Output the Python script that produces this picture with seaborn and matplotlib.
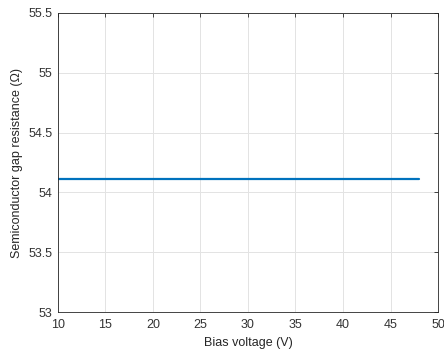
import matplotlib
matplotlib.use("Agg")
import matplotlib.pyplot as plt
import seaborn as sns
import pandas as pd

# Gap resistance versus applied bias
bias_voltage = [10, 20, 30, 40, 48]
gap_resistance = [54.11, 54.11, 54.11, 54.11, 54.11]

x_ticks = [10, 15, 20, 25, 30, 35, 40, 45, 50]
y_ticks = [53, 53.5, 54, 54.5, 55, 55.5]
y_tick_labels = ["53", "53.5", "54", "54.5", "55", "55.5"]

sns.set_theme(style="white")
plt.rcParams["font.family"] = ["Liberation Sans", "DejaVu Sans"]

df = pd.DataFrame({"Bias voltage (V)": bias_voltage,
                   "Semiconductor gap resistance (Ω)": gap_resistance})

fig = plt.figure(figsize=(4.44, 3.54), dpi=100)
ax = fig.add_axes([0.1306, 0.1186, 0.8559, 0.8447])

sns.lineplot(data=df, x="Bias voltage (V)", y="Semiconductor gap resistance (Ω)",
             ax=ax, color="#0072BD", linewidth=1.6)

ax.set_xlim(10, 50)
ax.set_ylim(53, 55.5)
ax.set_xticks(x_ticks)
ax.set_yticks(y_ticks)
ax.set_yticklabels(y_tick_labels)
ax.grid(True, color="#e3e3e3", linewidth=0.7)
ax.set_axisbelow(True)

for side in ["top", "right", "bottom", "left"]:
    ax.spines[side].set_visible(True)
    ax.spines[side].set_color("#262626")
    ax.spines[side].set_linewidth(0.6)

ax.tick_params(axis="both", which="both", direction="in", length=3, width=0.6,
               colors="#262626", labelsize=9, top=True, right=True,
               labelcolor="#333333")
ax.tick_params(axis="x", pad=5)
ax.tick_params(axis="y", pad=4)
ax.set_xlabel("Bias voltage (V)", fontsize=9, color="#262626", labelpad=4)
ax.set_ylabel("Semiconductor gap resistance (Ω)", fontsize=9, color="#262626", labelpad=4)

fig.savefig("out.png", dpi=100)
